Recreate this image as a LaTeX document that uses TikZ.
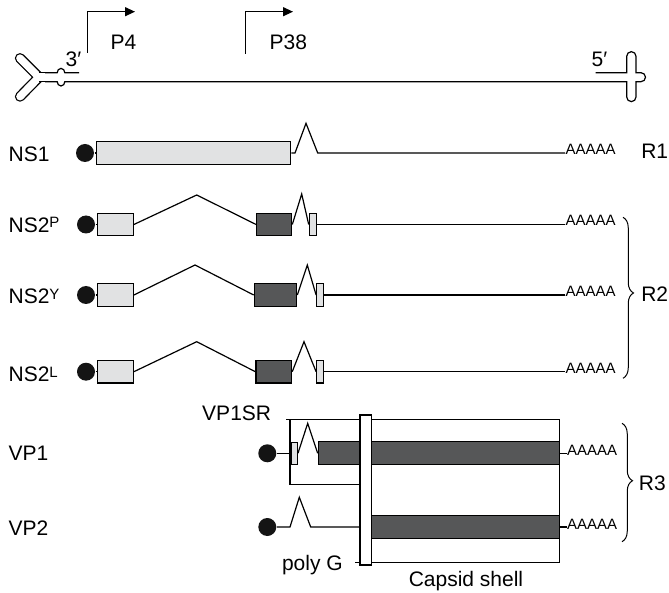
\documentclass[tikz,border=0pt]{standalone}
\usepackage{fontspec}
\setmainfont{Liberation Sans}
\usetikzlibrary{arrows.meta,decorations.pathreplacing}
\definecolor{exlight}{HTML}{E1E2E3}
\definecolor{exdark}{HTML}{565758}
\newcommand\supltr[1]{\raisebox{4.6pt}{\fontsize{15}{15}\selectfont #1}}
\begin{document}
\begin{tikzpicture}[x=1pt,y=-1pt,line width=1.2pt,line join=miter,
  lbl/.style={inner sep=0pt,font=\fontsize{21}{24}\selectfont},
  polya/.style={inner sep=0pt,font=\fontsize{15}{18}\selectfont},
  capdot/.style={circle,fill=black!92,draw=none,minimum size=18pt,inner sep=0pt},
  exonL/.style={draw,fill=exlight,inner sep=0pt,minimum height=22.5pt},
  exonD/.style={draw,fill=exdark,inner sep=0pt,minimum height=22.5pt},
  promoter/.style={-{Triangle[length=10pt,width=9pt]},line width=1.2pt},
  rbrace/.style={decorate,line width=1pt}]
\useasboundingbox (0,0) rectangle (669,593);

% ---- genome with terminal hairpins ----
\begin{scope}[line cap=round]
  \draw[line width=10.3pt] (20,58.2) -- (39,77.2) -- (20,96.6);
  \draw[line width=7.7pt,white] (20,58.2) -- (39,77.2) -- (20,96.6);
\end{scope}
\draw[line width=10.3pt,line cap=butt] (39,77.2) -- (46,77.2);
\draw[line width=7.7pt,white,line cap=butt] (36,77.2) -- (46.5,77.2);
\draw (45,72.7) -- (57.2,72.7) arc[start angle=180,end angle=360,x radius=3.8,y radius=4.3] -- (79,72.7);
\draw (595.7,72.7) -- (626.7,72.7) -- (626.7,56.3)
      arc[start angle=180,end angle=360,radius=4.65] -- (636,72.7) -- (641,72.7)
      arc[start angle=-90,end angle=90,radius=4.5] -- (636,81.7) -- (636,97)
      arc[start angle=0,end angle=180,radius=4.65] -- (626.7,81.7)
      -- (64.8,81.7) arc[start angle=0,end angle=180,x radius=3.8,y radius=4.3] -- (45,81.7);
\node[lbl,anchor=base west] (t3) at (65,66.7) {3′};
\node[lbl,anchor=base west] (t5) at (591,66.7) {5′};

% ---- promoters ----
\coordinate (p4s) at (87.3,53);   \coordinate (p4e) at (135,11.7);
\coordinate (p38s) at (245.7,54); \coordinate (p38e) at (293,11.7);
\draw[promoter] (p4s) |- (p4e);
\draw[promoter] (p38s) |- (p38e);
\node[lbl,anchor=base west] (lp4) at (110,50) {P4};
\node[lbl,anchor=base west] (lp38) at (269,50) {P38};

% ---- NS1 ----
\node[lbl,anchor=base west] (lns1) at (8,161.7) {NS1};
\node[capdot] (c1) at (85,153) {};
\node[exonL,minimum width=194pt] (e1) at (193.7,153) {};
\node[polya,anchor=base west] (a1) at (565,154.5) {AAAAA};
\draw (c1) -- (e1);
\draw (e1.east) -- (295,153) -- (306,123.3) -- (317.7,153) -- (e1.east -| a1.west);
\node[lbl,anchor=base west] (r1) at (640.7,158.7) {R1};

% ---- NS2P ----
\node[lbl,anchor=base west] (lns2p) at (8,232.3) {NS2\supltr{P}};
\node[capdot] (c2) at (86,224.5) {};
\node[exonL,minimum width=35.6pt] (e2a) at (115.5,224.5) {};
\node[exonD,minimum width=35pt] (e2b) at (274.2,224.5) {};
\node[exonL,minimum width=7.4pt] (e2c) at (313,224.5) {};
\node[polya,anchor=base west] (a2) at (565,226) {AAAAA};
\draw (c2) -- (e2a);
\draw (e2a.east) -- (196.7,195) -- (e2b.west);
\draw (e2b.east) -- (301.7,194) -- (e2c.west);
\draw (e2c.east) -- (e2c.east -| a2.west);

% ---- NS2Y ----
\node[lbl,anchor=base west] (lns2y) at (8,304) {NS2\supltr{Y}};
\node[capdot] (c3) at (86,295) {};
\node[exonL,minimum width=35.6pt] (e3a) at (115.5,295) {};
\node[exonD,minimum width=42.4pt] (e3b) at (275.5,295) {};
\node[exonL,minimum width=6.6pt] (e3c) at (320,295) {};
\node[polya,anchor=base west] (a3) at (565,296.5) {AAAAA};
\draw (c3) -- (e3a);
\draw (e3a.east) -- (195,265) -- (e3b.west);
\draw (e3b.east) -- (307.3,265) -- (e3c.west);
\draw (e3c.east) -- (e3c.east -| a3.west);

% ---- NS2L ----
\node[lbl,anchor=base west] (lns2l) at (8,381.7) {NS2\supltr{L}};
\node[capdot] (c4) at (86,371.7) {};
\node[exonL,minimum width=35.6pt] (e4a) at (115.5,371.7) {};
\node[exonD,minimum width=35.7pt] (e4b) at (273.8,371.7) {};
\node[exonL,minimum width=6.6pt] (e4c) at (320,371.7) {};
\node[polya,anchor=base west] (a4) at (565,373.2) {AAAAA};
\draw (c4) -- (e4a);
\draw (e4a.east) -- (196.7,341.7) -- (e4b.west);
\draw (e4b.east) -- (304,341.7) -- (e4c.west);
\draw (e4c.east) -- (e4c.east -| a4.west);

% R2 brace
\coordinate (b2t) at (623,217.3); \coordinate (b2b) at (623,378.3);
\draw[rbrace,decoration={brace,amplitude=10.5pt,aspect=0.47}] (b2t) -- (b2b);
\node[lbl,anchor=base west] (r2) at (640.7,301.7) {R2};

% ---- capsid region and VP1SR ----
\draw (286,419.3) -- (559.3,419.3) -- (559.3,562.3) -- (355,562.3);
\draw (290,419.3) -- (290,484.3) -- (360,484.3);
\node[lbl,anchor=base east] (lsr) at (271.7,420) {VP1SR};

% ---- VP1 ----
\node[lbl,anchor=base west] (lvp1) at (8,460.7) {VP1};
\node[capdot] (c5) at (267.3,453.3) {};
\node[exonL,minimum width=6.3pt,minimum height=22pt] (e5a) at (294.2,453.3) {};
\node[exonD,minimum width=241pt,minimum height=23pt] (e5b) at (438.8,453.3) {};
\node[polya,anchor=base west] (a5) at (566.5,455.5) {AAAAA};
\draw (c5) -- (e5a);
\draw (e5a.east) -- (307.7,423.3) -- (e5b.west);
\draw (e5b.east) -- (e5b.east -| a5.west);

% ---- VP2 ----
\node[lbl,anchor=base west] (lvp2) at (8,535.7) {VP2};
\node[capdot] (c6) at (267.3,527) {};
\node[exonD,minimum width=199.3pt,minimum height=22.3pt] (e6) at (459.7,527) {};
\node[polya,anchor=base west] (a6) at (566.5,529) {AAAAA};
\draw (c6) -- (290,527) -- (299.3,497.3) -- (310.7,527) -- (e6.west);
\draw (e6.east) -- (e6.east -| a6.west);

% poly G bar over the capsid coding boxes
\node[draw,fill=white,inner sep=0pt,minimum width=11.7pt,minimum height=150pt] (pg) at (365.85,490) {};
\node[lbl,anchor=base east] (lpg) at (343.3,570) {poly G};
\node[lbl,anchor=base] (lcs) at (466,586) {Capsid shell};

% R3 brace
\coordinate (b3t) at (622,423.3); \coordinate (b3b) at (622,541.7);
\draw[rbrace,decoration={brace,amplitude=10.5pt,aspect=0.485}] (b3t) -- (b3b);
\node[lbl,anchor=base west] (r3) at (638.3,490) {R3};
\end{tikzpicture}
\end{document}
